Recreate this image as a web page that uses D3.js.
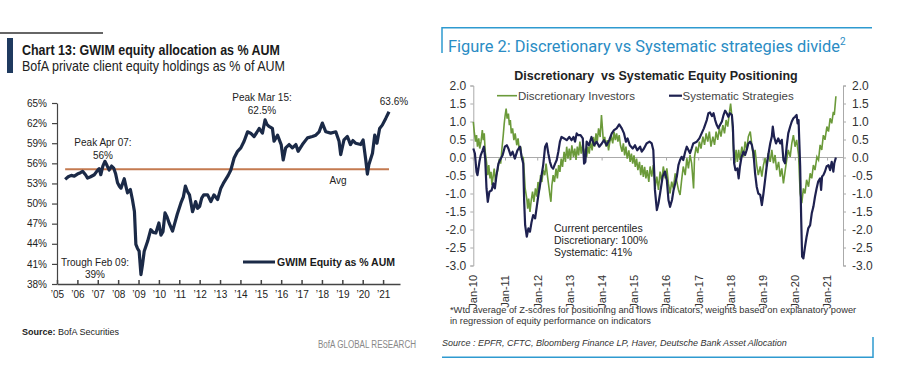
<!DOCTYPE html>
<meta charset="utf-8">
<head>
    <title>GWIM equity allocation and Discretionary vs Systematic positioning</title>
    <style>
        body { margin: 0; background: #fff; }
        svg { display: block; }
        .sans { font-family: "Liberation Sans", Arial, Helvetica, sans-serif; }
    </style>
</head>
<body>
<script src="https://cdn.jsdelivr.net/npm/d3@7"></script>
<script>

// ---------- left chart data (BofA GWIM equity % of AUM) ----------
var gwimYears = [2005, 2006, 2007, 2008, 2009, 2010, 2011, 2012, 2013, 2014, 2015, 2016, 2017, 2018, 2019, 2020, 2021];
var gwimTicks = [38, 41, 44, 47, 50, 53, 56, 59, 62, 65];
var gwimAvg = 55.1;
var gwim = [
    [2005.4,53.6],[2005.55,54.0],[2005.7,54.2],[2005.85,54.1],[2006.0,54.4],[2006.15,54.6],[2006.26,54.8],[2006.4,54.3],
    [2006.5,53.8],[2006.65,54.0],[2006.83,54.3],[2006.95,54.8],[2007.07,55.2],[2007.15,54.3],[2007.25,55.6],[2007.35,56.3],
    [2007.45,55.7],[2007.56,55.0],[2007.68,55.6],[2007.78,55.3],[2007.88,54.4],[2007.97,53.1],[2008.06,52.6],[2008.14,52.3],
    [2008.3,53.7],[2008.38,52.6],[2008.46,51.6],[2008.6,52.1],[2008.7,50.6],[2008.8,48.8],[2008.87,43.9],[2008.95,43.3],
    [2009.03,42.9],[2009.12,39.4],[2009.2,41.0],[2009.28,42.9],[2009.45,44.4],[2009.6,46.1],[2009.72,45.7],[2009.85,45.6],
    [2010.0,47.1],[2010.1,45.3],[2010.2,45.8],[2010.3,48.6],[2010.4,48.0],[2010.5,47.1],[2010.67,45.9],[2010.8,47.3],
    [2010.9,48.4],[2011.08,50.1],[2011.2,51.0],[2011.3,52.6],[2011.4,51.8],[2011.5,51.3],[2011.58,50.0],[2011.65,48.8],
    [2011.72,49.4],[2011.8,50.3],[2011.9,49.3],[2012.0,49.6],[2012.1,50.8],[2012.2,51.3],[2012.39,51.3],[2012.55,50.3],
    [2012.7,51.3],[2012.88,50.6],[2013.04,52.3],[2013.16,53.0],[2013.28,53.6],[2013.4,54.2],[2013.53,55.0],[2013.69,56.8],
    [2013.86,57.8],[2014.02,58.3],[2014.18,59.3],[2014.35,60.7],[2014.5,60.5],[2014.67,60.0],[2014.8,60.6],[2014.92,61.2],
    [2015.08,60.5],[2015.21,62.5],[2015.3,61.8],[2015.4,61.5],[2015.57,61.2],[2015.65,59.3],[2015.82,60.2],[2016.0,58.8],
    [2016.1,56.5],[2016.22,58.3],[2016.39,58.8],[2016.55,58.3],[2016.72,58.8],[2016.83,57.8],[2017.04,58.8],[2017.29,59.8],
    [2017.53,60.0],[2017.7,60.2],[2017.86,60.7],[2018.02,62.0],[2018.19,60.7],[2018.43,60.5],[2018.68,60.7],[2018.84,59.3],
    [2018.92,57.3],[2019.08,59.5],[2019.25,60.0],[2019.4,58.8],[2019.52,59.4],[2019.65,59.0],[2019.9,58.8],[2020.02,59.5],
    [2020.15,56.5],[2020.23,54.4],[2020.3,55.8],[2020.48,57.5],[2020.59,60.2],[2020.7,59.0],[2020.83,61.2],[2020.96,61.7],
    [2021.13,62.7],[2021.29,63.7]
];

// ---------- right chart data (Discretionary vs Systematic z-scores) ----------
var posYears = [2010, 2011, 2012, 2013, 2014, 2015, 2016, 2017, 2018, 2019, 2020, 2021];
var posTicks = [-3, -2.5, -2, -1.5, -1, -0.5, 0, 0.5, 1, 1.5, 2];
var systematic = [
    [2010.0,0.25],[2010.05,0.11],[2010.1,-0.4],[2010.13,-0.49],[2010.19,-0.12],[2010.23,0.06],[2010.29,0.2],[2010.33,0.3],
    [2010.37,-0.03],[2010.41,-0.86],[2010.45,-1.23],[2010.5,-0.95],[2010.57,-0.91],[2010.62,-0.72],[2010.67,-0.86],[2010.72,-0.49],
    [2010.78,-0.17],[2010.83,-0.07],[2010.91,0.06],[2010.98,0.3],[2011.04,0.34],[2011.09,0.25],[2011.16,0.06],[2011.22,0.16],
    [2011.29,-0.03],[2011.37,0.2],[2011.45,0.3],[2011.5,0.02],[2011.55,-0.17],[2011.58,-1.23],[2011.61,-1.88],[2011.66,-2.2],
    [2011.71,-1.97],[2011.76,-2.06],[2011.81,-1.79],[2011.86,-1.6],[2011.92,-1.69],[2011.97,-1.37],[2012.02,-1.05],[2012.07,-0.77],
    [2012.12,-0.49],[2012.17,-0.21],[2012.23,0.3],[2012.28,0.39],[2012.33,0.11],[2012.38,-0.12],[2012.43,-0.26],[2012.48,-0.31],
    [2012.54,-0.17],[2012.59,-0.07],[2012.64,0.16],[2012.69,0.44],[2012.74,0.57],[2012.82,0.53],[2012.9,0.48],[2012.98,0.57],
    [2013.05,0.48],[2013.11,0.57],[2013.16,0.44],[2013.21,0.67],[2013.26,0.62],[2013.33,0.62],[2013.4,0.53],[2013.44,-0.17],
    [2013.48,-0.12],[2013.52,0.44],[2013.59,0.34],[2013.67,0.57],[2013.75,0.34],[2013.83,0.44],[2013.91,0.3],[2013.99,0.39],
    [2014.06,0.48],[2014.14,0.34],[2014.22,0.48],[2014.3,0.67],[2014.37,0.76],[2014.45,0.81],[2014.53,0.92],[2014.61,0.81],
    [2014.68,0.67],[2014.74,0.44],[2014.79,0.53],[2014.86,0.34],[2014.95,0.25],[2015.02,0.34],[2015.09,0.2],[2015.18,0.3],
    [2015.23,0.16],[2015.3,0.25],[2015.38,0.39],[2015.47,0.44],[2015.54,0.39],[2015.59,0.2],[2015.64,-0.9],[2015.7,-1.46],
    [2015.75,-1.27],[2015.8,-1.0],[2015.88,-0.53],[2015.95,-0.39],[2016.01,-0.63],[2016.06,-1.18],[2016.11,-1.37],[2016.17,-1.18],
    [2016.22,-0.9],[2016.27,-0.72],[2016.32,-0.53],[2016.37,-0.21],[2016.42,-0.07],[2016.47,0.02],[2016.52,-0.07],[2016.58,0.16],
    [2016.63,0.3],[2016.68,0.21],[2016.73,0.12],[2016.78,0.25],[2016.83,0.39],[2016.94,0.44],[2017.02,0.53],[2017.09,0.67],
    [2017.16,0.81],[2017.25,1.04],[2017.3,1.23],[2017.35,1.25],[2017.41,1.15],[2017.46,1.23],[2017.51,1.04],[2017.56,0.9],
    [2017.61,0.81],[2017.66,0.9],[2017.72,1.0],[2017.77,1.18],[2017.82,1.3],[2017.87,1.23],[2017.92,1.13],[2017.97,1.23],
    [2018.03,1.18],[2018.06,0.86],[2018.1,-0.16],[2018.14,-0.35],[2018.2,-0.3],[2018.24,-0.58],[2018.28,-0.25],[2018.33,0.02],
    [2018.39,0.16],[2018.44,0.07],[2018.49,0.21],[2018.54,0.39],[2018.6,0.44],[2018.65,0.35],[2018.7,0.12],[2018.75,-0.44],
    [2018.8,-0.81],[2018.85,-1.0],[2018.91,-1.04],[2018.96,-1.32],[2019.01,-1.0],[2019.06,-0.63],[2019.11,-0.25],[2019.16,0.07],
    [2019.22,0.39],[2019.27,0.58],[2019.3,0.86],[2019.34,0.58],[2019.4,0.39],[2019.47,0.53],[2019.53,0.39],[2019.58,0.49],
    [2019.63,-0.07],[2019.68,-0.16],[2019.73,0.3],[2019.78,0.67],[2019.84,0.86],[2019.89,1.0],[2019.94,1.09],[2019.99,1.13],
    [2020.04,1.18],[2020.07,0.95],[2020.1,1.04],[2020.15,-0.25],[2020.18,-1.64],[2020.21,-2.75],[2020.25,-2.8],[2020.3,-2.48],
    [2020.35,-2.2],[2020.4,-1.97],[2020.46,-1.88],[2020.51,-1.55],[2020.56,-1.37],[2020.61,-1.09],[2020.66,-0.86],[2020.71,-0.67],
    [2020.77,-0.58],[2020.8,-0.9],[2020.83,-0.53],[2020.87,-0.49],[2020.92,-0.39],[2020.97,-0.25],[2021.03,-0.21],[2021.08,-0.35],
    [2021.13,-0.12],[2021.18,-0.39],[2021.21,-0.16],[2021.26,0.0]
];
var discretionary = [
    [2010.0,0.99],[2010.03,0.71],[2010.07,0.44],[2010.1,0.62],[2010.13,0.3],[2010.17,0.53],[2010.2,0.25],[2010.24,0.44],
    [2010.28,0.76],[2010.31,0.48],[2010.34,0.67],[2010.37,0.16],[2010.41,-0.12],[2010.45,-0.49],[2010.48,-0.21],[2010.52,-0.58],
    [2010.55,-0.4],[2010.58,-0.77],[2010.62,-0.49],[2010.65,-0.31],[2010.69,-0.68],[2010.72,-0.49],[2010.76,-0.35],[2010.81,-0.03],
    [2010.85,-0.17],[2010.89,0.25],[2010.93,0.62],[2010.96,0.94],[2010.99,1.18],[2011.02,1.36],[2011.05,1.08],[2011.09,1.22],
    [2011.12,0.9],[2011.15,1.04],[2011.18,0.67],[2011.22,0.81],[2011.26,0.48],[2011.3,0.67],[2011.35,0.34],[2011.39,0.53],
    [2011.43,0.2],[2011.47,0.3],[2011.51,-0.07],[2011.55,0.02],[2011.58,-0.4],[2011.61,-0.86],[2011.66,-1.14],[2011.69,-1.42],
    [2011.72,-1.14],[2011.76,-1.51],[2011.8,-1.18],[2011.84,-0.95],[2011.88,-1.23],[2011.93,-0.86],[2011.97,-1.09],[2012.01,-0.68],
    [2012.05,-0.91],[2012.09,-0.49],[2012.13,-0.68],[2012.17,-0.35],[2012.22,-0.49],[2012.26,-0.17],[2012.3,-0.49],[2012.34,-0.77],
    [2012.38,-1.05],[2012.41,-1.23],[2012.44,-0.77],[2012.48,-0.49],[2012.52,-0.68],[2012.57,-0.31],[2012.61,-0.58],[2012.65,-0.21],
    [2012.69,-0.4],[2012.73,-0.03],[2012.77,-0.26],[2012.82,0.16],[2012.86,-0.12],[2012.9,0.3],[2012.94,-0.03],[2012.98,0.25],
    [2013.02,-0.07],[2013.06,0.34],[2013.11,0.02],[2013.15,0.25],[2013.19,-0.07],[2013.23,0.3],[2013.27,0.06],[2013.31,0.44],
    [2013.35,0.11],[2013.4,0.39],[2013.44,-0.03],[2013.48,0.25],[2013.52,0.02],[2013.56,0.3],[2013.6,0.11],[2013.64,0.44],
    [2013.69,0.2],[2013.73,0.57],[2013.77,0.3],[2013.81,0.67],[2013.85,0.44],[2013.89,0.81],[2013.94,0.57],[2013.98,1.18],
    [2014.01,0.81],[2014.04,0.44],[2014.08,0.57],[2014.12,0.3],[2014.16,0.48],[2014.2,0.2],[2014.24,0.44],[2014.29,0.57],
    [2014.33,0.39],[2014.37,0.71],[2014.41,0.48],[2014.45,0.67],[2014.49,0.44],[2014.53,0.62],[2014.57,0.34],[2014.62,0.16],
    [2014.66,0.39],[2014.7,0.06],[2014.74,0.3],[2014.78,-0.03],[2014.83,0.2],[2014.87,-0.12],[2014.91,0.11],[2014.95,-0.17],
    [2014.99,0.06],[2015.03,-0.26],[2015.07,-0.03],[2015.11,-0.35],[2015.16,-0.12],[2015.2,-0.49],[2015.24,-0.21],[2015.28,-0.54],
    [2015.32,-0.26],[2015.36,-0.58],[2015.4,-0.35],[2015.45,-0.68],[2015.49,-0.25],[2015.54,-0.53],[2015.59,-0.21],[2015.65,-0.81],
    [2015.7,-0.53],[2015.75,-0.9],[2015.8,-0.39],[2015.85,-0.67],[2015.9,-0.25],[2015.96,-0.58],[2016.01,-0.3],[2016.06,-0.72],
    [2016.11,-1.0],[2016.16,-0.67],[2016.21,-0.86],[2016.27,-0.44],[2016.32,-0.67],[2016.37,-0.9],[2016.42,-1.04],[2016.47,-0.62],
    [2016.52,-0.25],[2016.58,-0.49],[2016.63,-0.02],[2016.68,-0.3],[2016.73,0.07],[2016.78,-0.16],[2016.84,-0.86],[2016.87,0.02],
    [2016.92,0.3],[2016.97,0.12],[2017.02,0.44],[2017.07,0.25],[2017.13,0.58],[2017.18,0.35],[2017.23,0.67],[2017.28,0.44],
    [2017.33,0.72],[2017.38,0.3],[2017.44,0.58],[2017.49,0.35],[2017.54,0.72],[2017.59,0.49],[2017.64,0.81],[2017.69,0.58],
    [2017.75,0.9],[2017.8,0.67],[2017.85,1.04],[2017.9,0.86],[2017.95,1.23],[2017.99,1.5],[2018.04,1.04],[2018.08,0.21],
    [2018.12,-0.16],[2018.16,0.21],[2018.2,-0.12],[2018.24,0.21],[2018.28,-0.07],[2018.34,0.3],[2018.39,0.02],[2018.44,0.44],
    [2018.49,0.21],[2018.54,0.58],[2018.6,0.72],[2018.65,0.35],[2018.7,-0.02],[2018.75,0.21],[2018.8,-0.21],[2018.85,-0.49],
    [2018.91,-0.25],[2018.96,-0.53],[2019.01,-0.21],[2019.06,-0.02],[2019.11,-0.25],[2019.16,0.12],[2019.22,-0.12],[2019.27,0.21],
    [2019.32,-0.16],[2019.37,0.07],[2019.42,-0.35],[2019.48,-0.12],[2019.53,-0.53],[2019.58,-0.3],[2019.63,-0.72],[2019.68,-0.39],
    [2019.73,-0.07],[2019.78,0.21],[2019.84,0.02],[2019.89,0.39],[2019.94,0.62],[2019.99,0.3],[2020.04,0.49],[2020.1,0.07],
    [2020.15,-1.0],[2020.2,-1.27],[2020.25,-0.86],[2020.3,-1.0],[2020.35,-0.62],[2020.41,-0.81],[2020.46,-0.44],[2020.51,-0.58],
    [2020.56,-0.21],[2020.61,-0.35],[2020.67,0.02],[2020.72,-0.07],[2020.77,0.35],[2020.82,0.21],[2020.87,0.62],[2020.92,0.49],
    [2020.98,0.86],[2021.03,0.72],[2021.08,1.09],[2021.13,0.95],[2021.18,1.27],[2021.21,1.18],[2021.25,1.6],[2021.26,1.7]
];

var width = 900, height = 379;
var svg = d3.select("body").append("svg")
    .attr("width", width)
    .attr("height", height);

// ================= LEFT PANEL =================
var left = svg.append("g").attr("class", "sans");

left.append("line")
    .attr("x1", 0).attr("x2", 103).attr("y1", 33).attr("y2", 33)
    .attr("stroke", "#333").attr("stroke-width", 1.5);
left.append("rect")
    .attr("x", 7).attr("y", 38).attr("width", 6).attr("height", 35)
    .attr("fill", "#1f3a5f");
// no narrow font installed, so squeeze to the measured widths
left.append("text")
    .attr("x", 22).attr("y", 55)
    .attr("font-size", 15).attr("font-weight", "bold").attr("fill", "#1a1a1a")
    .attr("textLength", 258).attr("lengthAdjust", "spacingAndGlyphs")
    .text("Chart 13: GWIM equity allocation as % AUM");
left.append("text")
    .attr("x", 22).attr("y", 71)
    .attr("font-size", 15).attr("fill", "#222")
    .attr("textLength", 263).attr("lengthAdjust", "spacingAndGlyphs")
    .text("BofA private client equity holdings as % of AUM");

var xL = d3.scaleLinear().domain([2005, 2021.83]).range([57, 400]);
var yL = d3.scaleLinear().domain([38, 65]).range([284, 103]);

var yAxisL = left.append("g")
    .attr("transform", "translate(57,0)")
    .call(d3.axisLeft(yL).tickValues(gwimTicks).tickSize(5).tickSizeOuter(0).tickPadding(5)
        .tickFormat(function(d) { return d + "%"; }));
yAxisL.selectAll("text").attr("font-size", 10).attr("fill", "#222").attr("font-family", null);
yAxisL.selectAll("line, path").attr("stroke", "#444").attr("stroke-width", 1.2);

var xAxisL = left.append("g")
    .attr("transform", "translate(0,284)")
    .call(d3.axisBottom(xL).tickValues(gwimYears).tickSizeInner(-4).tickSizeOuter(0).tickPadding(7)
        .tickFormat(function(d) { return "\u2019" + String(d).slice(2); }));
xAxisL.selectAll("text").attr("font-size", 10).attr("fill", "#222").attr("font-family", null);
xAxisL.selectAll("line, path").attr("stroke", "#444").attr("stroke-width", 1.5);

// average line
left.append("line")
    .attr("x1", xL(2005.4)).attr("x2", xL(2021.29))
    .attr("y1", yL(gwimAvg)).attr("y2", yL(gwimAvg))
    .attr("stroke", "#c47a50").attr("stroke-width", 2);

var lineL = d3.line()
    .x(function(d) { return xL(d[0]); })
    .y(function(d) { return yL(d[1]); })
    .curve(d3.curveLinear);
left.append("path")
    .datum(gwim)
    .attr("d", lineL)
    .attr("fill", "none")
    .attr("stroke", "#1b2a47")
    .attr("stroke-width", 3.2)
    .attr("stroke-linejoin", "round");

// annotations
var notes = [
    ["Peak Apr 07:", 103, 145.5], ["56%", 103, 159],
    ["Trough Feb 09:", 95, 265.5], ["39%", 95, 278],
    ["Peak Mar 15:", 262, 100.5], ["62.5%", 262, 114],
    ["63.6%", 394, 104.5], ["Avg", 338, 184]
];
left.selectAll(".note").data(notes).enter().append("text")
    .attr("class", "note")
    .attr("x", function(d) { return d[1]; })
    .attr("y", function(d) { return d[2]; })
    .attr("text-anchor", "middle")
    .attr("font-size", 10).attr("fill", "#222")
    .text(function(d) { return d[0]; });

// legend
left.append("line")
    .attr("x1", 243).attr("x2", 275).attr("y1", 262).attr("y2", 262)
    .attr("stroke", "#1b2a47").attr("stroke-width", 3);
left.append("text")
    .attr("x", 277).attr("y", 266)
    .attr("font-size", 10.5).attr("font-weight", "bold").attr("fill", "#1a1a1a")
    .text("GWIM Equity as % AUM");

var src = left.append("text")
    .attr("x", 22).attr("y", 334.5).attr("font-size", 9).attr("fill", "#222");
src.append("tspan").attr("font-weight", "bold").text("Source:");
src.append("tspan").text(" BofA Securities");
left.append("text")
    .attr("x", 318).attr("y", 348)
    .attr("font-size", 10).attr("fill", "#888")
    .attr("textLength", 98).attr("lengthAdjust", "spacingAndGlyphs")
    .text("BofA GLOBAL RESEARCH");

// ================= RIGHT PANEL =================
var right = svg.append("g").attr("class", "sans");
var blue = "#2e9ad0";

right.append("path")
    .attr("d", "M442,53 V27.7 H872")
    .attr("fill", "none").attr("stroke", blue).attr("stroke-width", 1.5);
right.append("path")
    .attr("d", "M442,357.3 H873 V337")
    .attr("fill", "none").attr("stroke", blue).attr("stroke-width", 1.5);

var ft = right.append("text")
    .attr("x", 448).attr("y", 51.5)
    .attr("font-family", "Roboto, 'Liberation Sans', sans-serif")
    .attr("font-size", 16.4).attr("fill", "#2a8cc4");
ft.append("tspan").text("Figure 2: Discretionary vs Systematic strategies divide");
ft.append("tspan").attr("font-size", 10).attr("dy", -7).text("2");

right.append("text")
    .attr("x", 656).attr("y", 80).attr("text-anchor", "middle")
    .attr("font-size", 12.5).attr("font-weight", "bold").attr("fill", "#222")
    .style("white-space", "pre")
    .text("Discretionary  vs Systematic Equity Positioning");

var xR = d3.scaleLinear().domain([2010, 2021.48]).range([473.3, 843]);
var yR = d3.scaleLinear().domain([-3, 2]).range([265.5, 85.5]);
var fmt = function(d) { return d.toFixed(1); };

var yAxisR1 = right.append("g")
    .attr("transform", "translate(473.3,0)")
    .call(d3.axisLeft(yR).tickValues(posTicks).tickSize(3).tickSizeOuter(3).tickPadding(4).tickFormat(fmt));
var yAxisR2 = right.append("g")
    .attr("transform", "translate(843,0)")
    .call(d3.axisRight(yR).tickValues(posTicks).tickSize(3).tickSizeOuter(3).tickPadding(6).tickFormat(fmt));
[yAxisR1, yAxisR2].forEach(function(a) {
    a.selectAll("text").attr("font-size", 12).attr("fill", "#333").attr("font-family", null);
    a.selectAll("line, path").attr("stroke", "#aaa");
});

// zero line with small year ticks
right.append("line")
    .attr("x1", 473.3).attr("x2", 843).attr("y1", yR(0)).attr("y2", yR(0))
    .attr("stroke", "#aaa").attr("stroke-width", 1.2);
right.selectAll(".yt").data(posYears).enter().append("line")
    .attr("class", "yt")
    .attr("x1", function(d) { return xR(d); }).attr("x2", function(d) { return xR(d); })
    .attr("y1", yR(0)).attr("y2", yR(0) + 3)
    .attr("stroke", "#aaa");

right.selectAll(".xl").data(posYears).enter().append("text")
    .attr("class", "xl")
    .attr("transform", function(d) { return "translate(" + xR(d) + ",275) rotate(-90)"; })
    .attr("text-anchor", "end").attr("dy", "0.35em")
    .attr("font-size", 11).attr("fill", "#333")
    .text(function(d) { return "Jan-" + String(d).slice(2); });

var lineR = d3.line()
    .x(function(d) { return xR(d[0]); })
    .y(function(d) { return yR(d[1]); });
right.append("path")
    .datum(discretionary)
    .attr("d", lineR)
    .attr("fill", "none").attr("stroke", "#6b9a3a").attr("stroke-width", 1.6);
right.append("path")
    .datum(systematic)
    .attr("d", lineR)
    .attr("fill", "none").attr("stroke", "#1e2150").attr("stroke-width", 2.2)
    .attr("stroke-linejoin", "round");

// legend
right.append("line").attr("x1", 497).attr("x2", 517).attr("y1", 95.7).attr("y2", 95.7)
    .attr("stroke", "#6b9a3a").attr("stroke-width", 1.6);
right.append("text").attr("x", 518).attr("y", 99.7)
    .attr("font-size", 11.5).attr("fill", "#444").text("Discretionary Investors");
right.append("line").attr("x1", 669).attr("x2", 682).attr("y1", 95.7).attr("y2", 95.7)
    .attr("stroke", "#1e2150").attr("stroke-width", 2.2);
right.append("text").attr("x", 682.5).attr("y", 99.7)
    .attr("font-size", 11.5).attr("fill", "#444").text("Systematic Strategies");

var pct = ["Current percentiles", "Discretionary: 100%", "Systematic: 41%"];
right.selectAll(".pct").data(pct).enter().append("text")
    .attr("class", "pct")
    .attr("x", 554).attr("y", function(d, i) { return 231.5 + i * 12.3; })
    .attr("font-size", 10.5).attr("fill", "#222")
    .text(function(d) { return d; });

right.append("text").attr("x", 450).attr("y", 312.5)
    .attr("font-size", 9.3).attr("fill", "#333")
    .text("*Wtd average of Z-scores for positioning and flows indicators, weights based on explanatory power");
right.append("text").attr("x", 450).attr("y", 324)
    .attr("font-size", 9.3).attr("fill", "#333")
    .text("in regression of equity performance on indicators");
right.append("text").attr("x", 442).attr("y", 346)
    .attr("font-size", 9).attr("font-style", "italic").attr("fill", "#333")
    .text("Source : EPFR, CFTC, Bloomberg Finance LP, Haver, Deutsche Bank Asset Allocation");

</script>
</body>
</html>
